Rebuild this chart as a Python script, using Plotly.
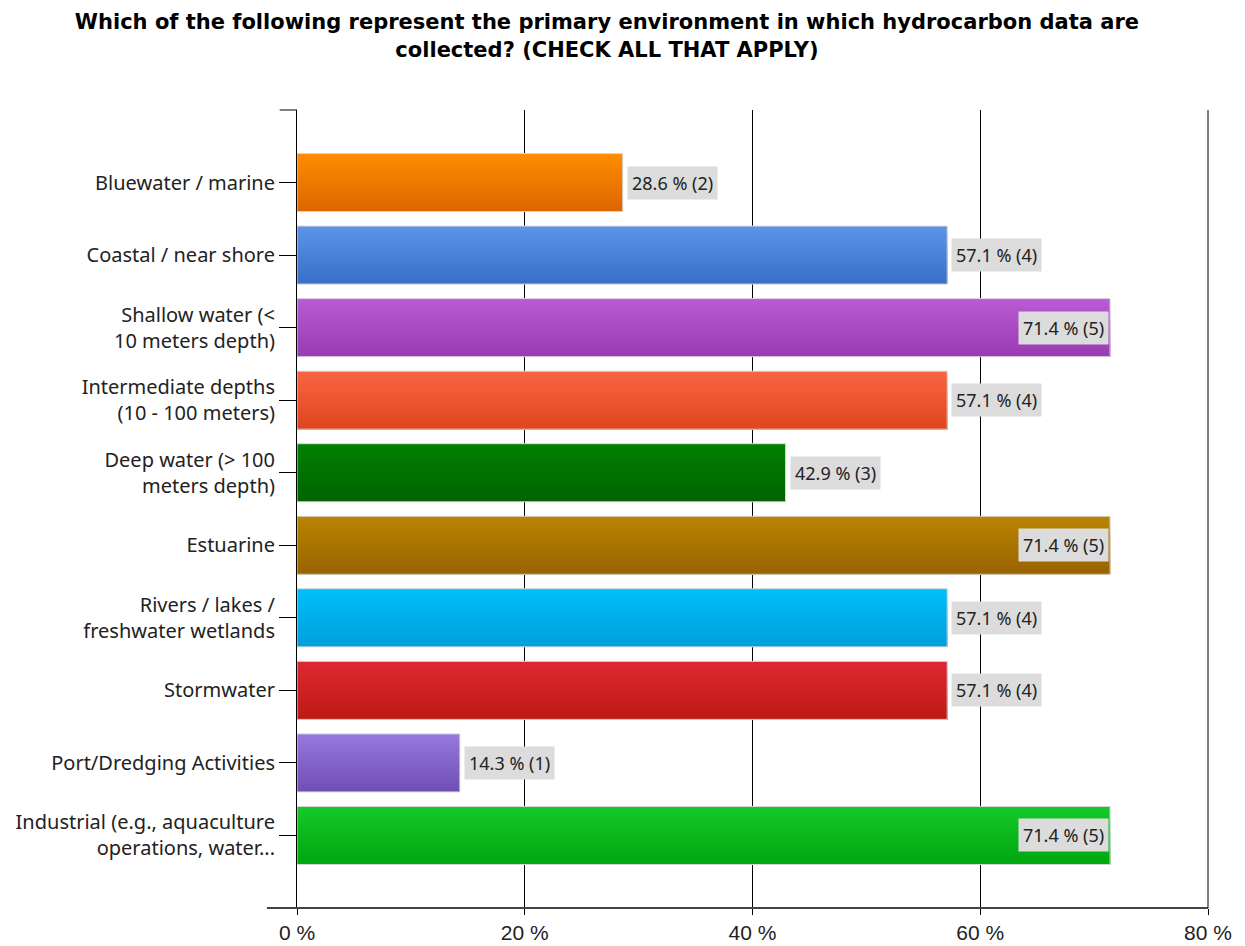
import plotly.graph_objects as go

categories = [
    "Bluewater / marine",
    "Coastal / near shore",
    "Shallow water (<<br>10 meters depth)",
    "Intermediate depths<br>(10 - 100 meters)",
    "Deep water (> 100<br>meters depth)",
    "Estuarine",
    "Rivers / lakes /<br>freshwater wetlands",
    "Stormwater",
    "Port/Dredging Activities",
    "Industrial (e.g., aquaculture<br>operations, water...",
]
percents = [28.6, 57.1, 71.4, 57.1, 42.9, 71.4, 57.1, 57.1, 14.3, 71.4]
counts = [2, 4, 5, 4, 3, 5, 4, 4, 1, 5]
colors_top = ["#FF8C00", "#5A94E6", "#B85AD2", "#F86440", "#008000",
              "#B88400", "#00BEFA", "#DC2832", "#9678DC", "#14C828"]
colors_bottom = ["#DD6600", "#3A70C8", "#9A3CB4", "#E04620", "#006400",
                 "#9A6400", "#00A0DC", "#BE1A14", "#7050B4", "#00A810"]
x_ticks = [0, 20, 40, 60, 80]

idx = list(range(len(categories)))


def hex_to_rgb(h):
    h = h.lstrip("#")
    return tuple(int(h[i:i + 2], 16) for i in (0, 2, 4))


def mix(c1, c2, t):
    a, b = hex_to_rgb(c1), hex_to_rgb(c2)
    return "rgb(%d,%d,%d)" % tuple(round(a[i] + (b[i] - a[i]) * t) for i in range(3))


BAR_W = 0.8
N = 14
step = BAR_W / N
fig = go.Figure()
# vertical gradient: each layer starts lower and runs to the bar's bottom edge
for k in range(N):
    t = k / (N - 1)
    fig.add_trace(go.Bar(
        y=idx, x=percents, orientation="h",
        width=BAR_W - k * step, offset=-BAR_W / 2 + k * step,
        marker=dict(color=[mix(a, b, t) for a, b in zip(colors_top, colors_bottom)],
                    line=dict(width=0)),
        hoverinfo="skip", showlegend=False,
    ))
# outline
fig.add_trace(go.Bar(
    y=idx, x=percents, orientation="h", width=BAR_W,
    marker=dict(color="rgba(0,0,0,0)", line=dict(color="#D8D8D8", width=1)),
    hoverinfo="skip", showlegend=False,
))

annotations = []
for i, (p, c) in enumerate(zip(percents, counts)):
    inside = p > 65
    annotations.append(dict(
        x=p, y=i, xref="x", yref="y",
        text=f"{p} % ({c})", showarrow=False,
        xanchor="right" if inside else "left",
        xshift=-1 if inside else 4,
        bgcolor="#DCDCDC", borderpad=4,
        font=dict(family="Noto Sans, DejaVu Sans, sans-serif", size=18, color="#222"),
    ))

fig.update_layout(
    width=1245, height=946,
    paper_bgcolor="white", plot_bgcolor="white",
    margin=dict(l=297, r=37, t=110, b=38),
    title=dict(
        text="Which of the following represent the primary environment in which hydrocarbon data are<br>collected? (CHECK ALL THAT APPLY)",
        x=0.4875, xanchor="center", y=0.969, yanchor="top",
        font=dict(family="DejaVu Sans, Verdana, sans-serif", size=21, color="black", weight="bold"),
    ),
    annotations=annotations,
    barmode="overlay",
)
fig.update_xaxes(
    range=[0, 80], tickvals=x_ticks, ticktext=[f"{t} %" for t in x_ticks],
    showgrid=True, gridcolor="black", gridwidth=1,
    zeroline=False, showline=False, automargin=False,
    ticks="outside", ticklen=6, tickcolor="black",
    tickfont=dict(family="Liberation Sans Narrow, Liberation Sans, Arial", size=21, color="#222"),
)
fig.update_yaxes(
    range=[len(categories), -1], tickvals=idx, ticktext=categories,
    showgrid=False, zeroline=False, automargin=False,
    showline=True, linecolor="black", linewidth=1,
    ticks="outside", ticklen=17, tickcolor="black",
    tickfont=dict(family="Noto Sans, DejaVu Sans, sans-serif", size=20, color="#222"),
)
# bottom axis line extending left, top cap of y axis, right border at 80 %
fig.add_shape(type="line", xref="paper", yref="paper", x0=-0.033, x1=1, y0=0, y1=0,
              line=dict(color="#444", width=2))
fig.add_shape(type="line", xref="paper", yref="paper", x0=-0.019, x1=0, y0=1, y1=1,
              line=dict(color="black", width=1))
fig.add_shape(type="line", xref="paper", yref="paper", x0=1, x1=1, y0=0, y1=1,
              line=dict(color="black", width=1))

fig.write_html("out.html", config={"displayModeBar": False},
               post_script="document.body.style.margin='0';document.body.style.overflow='hidden';")
